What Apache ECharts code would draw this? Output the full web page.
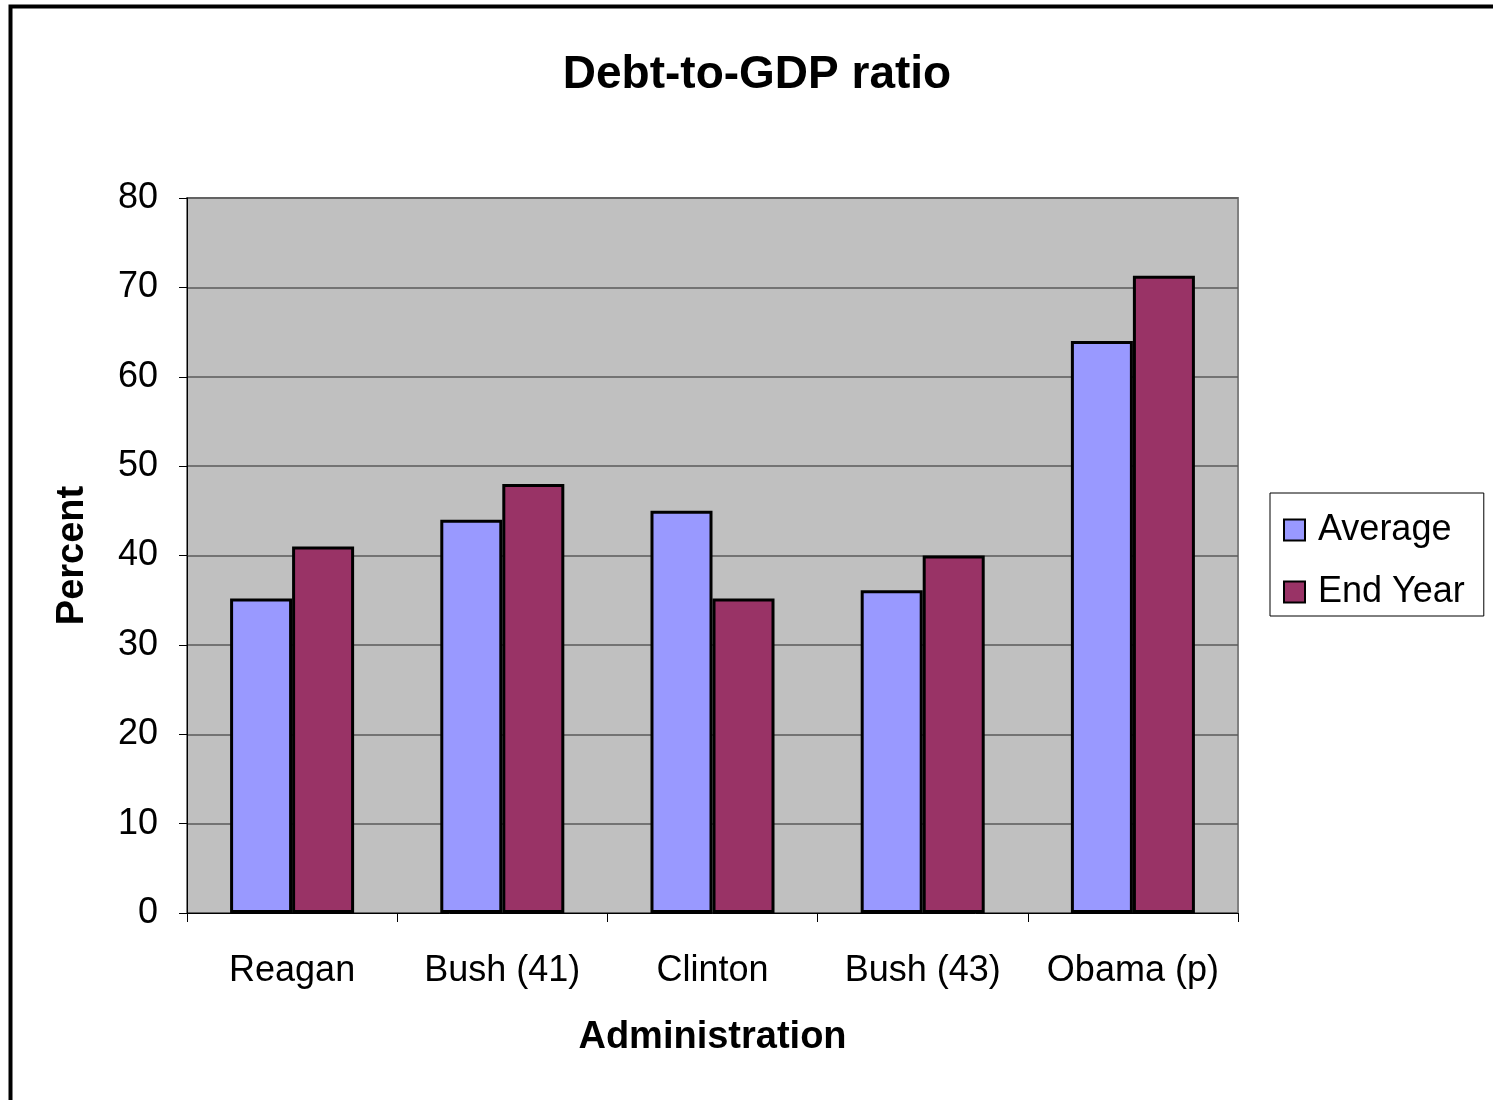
<!DOCTYPE html>
<html>
<head>
<meta charset="utf-8">
<script src="https://cdn.jsdelivr.net/npm/echarts@6/dist/echarts.min.js"></script>
<style>
html,body{margin:0;padding:0;background:#fff;}
#chart{width:1493px;height:1100px;}
</style>
</head>
<body>
<div id="chart"></div>
<script>
var categories = ['Reagan', 'Bush (41)', 'Clinton', 'Bush (43)', 'Obama (p)'];
var averageValues = [35.2, 44, 45, 36.1, 64];
var endYearValues = [41, 48, 35.2, 40, 71.3];
var seriesNames = ['Average', 'End Year'];

var FONT = "'Liberation Sans', Arial, sans-serif";
var chart = echarts.init(document.getElementById('chart'), null, {renderer: 'canvas'});
chart.setOption({
  backgroundColor: '#ffffff',
  animation: false,
  title: {
    text: 'Debt-to-GDP ratio',
    left: 752, top: 47, textAlign: 'center',
    textStyle: {fontFamily: FONT, fontSize: 46, fontWeight: 'bold', color: '#000'}
  },
  graphic: [{
    type: 'rect', silent: true, z: 100,
    shape: {x: 10.5, y: 6.5, width: 2000, height: 2000},
    style: {fill: 'none', stroke: '#000', lineWidth: 4}
  }],
  legend: {
    orient: 'vertical',
    left: 1270, top: 493,
    padding: [19, 19, 6, 13],
    itemGap: 26,
    itemWidth: 21, itemHeight: 21,
    borderColor: '#000', borderWidth: 1,
    backgroundColor: '#fff',
    icon: 'rect',
    textStyle: {fontFamily: FONT, fontSize: 36, color: '#000', padding: [0, 0, 0, 8]},
    data: seriesNames
  },
  grid: {
    left: 187, right: 255, top: 198, bottom: 187,
    show: true, backgroundColor: '#C0C0C0', borderColor: '#808080', borderWidth: 2
  },
  xAxis: {
    type: 'category',
    data: categories,
    name: 'Administration',
    nameLocation: 'middle',
    nameGap: 106,
    nameTextStyle: {fontFamily: FONT, fontSize: 38, fontWeight: 'bold', color: '#000'},
    axisLine: {show: true, lineStyle: {color: '#000', width: 1}},
    axisTick: {show: true, alignWithLabel: false, interval: 0, length: 9, lineStyle: {color: '#000'}},
    axisLabel: {fontFamily: FONT, fontSize: 36, color: '#000', margin: 40, interval: 0}
  },
  yAxis: {
    type: 'value',
    min: 0, max: 80, interval: 10,
    name: 'Percent',
    nameLocation: 'middle',
    nameGap: 95,
    nameRotate: 90,
    nameTextStyle: {fontFamily: FONT, fontSize: 38, fontWeight: 'bold', color: '#000'},
    axisLine: {show: true, lineStyle: {color: '#000', width: 1}},
    axisTick: {show: true, length: 8, lineStyle: {color: '#000'}},
    axisLabel: {fontFamily: FONT, fontSize: 36, color: '#000', margin: 29},
    splitLine: {show: true, lineStyle: {color: '#5a5a5a', width: 1.5}}
  },
  series: [{
    name: seriesNames[0], type: 'bar', data: averageValues,
    barGap: '0%', barCategoryGap: '41%',
    itemStyle: {color: '#9999FF', borderColor: '#000', borderWidth: 3}
  }, {
    name: seriesNames[1], type: 'bar', data: endYearValues,
    barGap: '0%', barCategoryGap: '41%',
    itemStyle: {color: '#993366', borderColor: '#000', borderWidth: 3}
  }]
});
</script>
</body>
</html>
